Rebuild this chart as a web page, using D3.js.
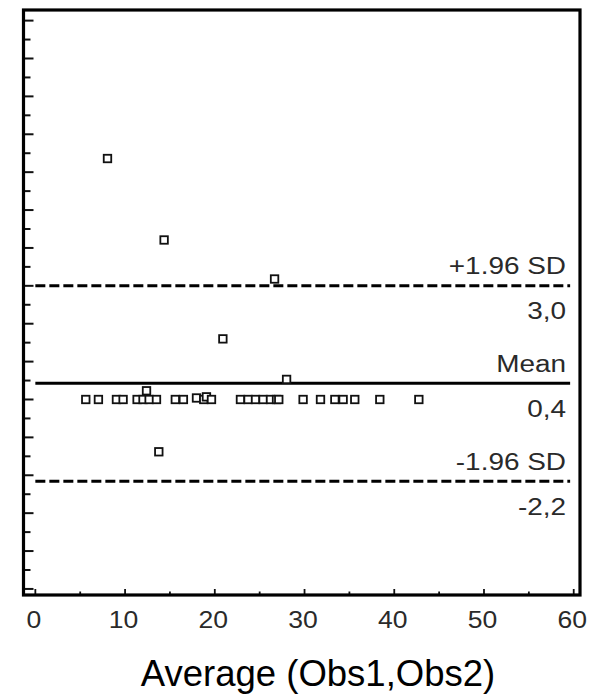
<!DOCTYPE html>
<html>
<head>
<meta charset="utf-8">
<script src="https://cdn.jsdelivr.net/npm/d3@7"></script>
<style>
  html, body { margin: 0; padding: 0; background: #fff; }
  svg { display: block; font-family: Arial, "Liberation Sans", sans-serif; }
</style>
</head>
<body>
<div id="viz"></div>
<script>
// Bland-Altman: average of two observers vs. their difference
const avgValues = [8.04, 14.35, 26.66, 20.9, 28.0, 13.76, 12.39,
  5.62, 7.03, 9.04, 9.78, 11.34, 12.0, 12.68, 13.5, 15.6, 16.5,
  17.96, 18.77, 19.07, 19.63,
  22.86, 23.71, 24.54, 25.38, 26.21, 26.88, 27.13,
  29.84, 31.78, 33.38, 34.3, 35.6, 38.39, 42.74];
const diffValues = [6.36, 4.21, 3.18, 1.6, 0.53, -1.38, 0.23,
  0, 0, 0, 0, 0, 0, 0, 0, 0, 0,
  0.04, 0, 0.07, 0,
  0, 0, 0, 0, 0, 0, 0,
  0, 0, 0, 0, 0, 0, 0];

const limitNames = ['+1.96 SD', 'Mean', '-1.96 SD'];
const limitValues = [3.0, 0.43, -2.16];
const limitTexts = ['3,0', '0,4', '-2,2'];
const limitDashed = [true, false, true];

const xTickValues = [0, 10, 20, 30, 40, 50, 60];
const xLabel = 'Average (Obs1,Obs2)';

const width = 601, height = 699;
const frame = {left: 23.5, right: 580, top: 10, bottom: 595};

const svg = d3.select('#viz').append('svg')
  .attr('width', width).attr('height', height)
  .attr('viewBox', `0 0 ${width} ${height}`)
  .attr('role', 'img')
  .attr('aria-label', 'Bland-Altman plot: difference against average of Obs1 and Obs2');

const x = d3.scaleLinear().domain([-1.32, 60.7]).range([frame.left, frame.right]);
const y = d3.scaleLinear().domain([-5.16, 10.28]).range([frame.bottom, frame.top]);

// y ticks: long at integers, short at halves, pointing inward
const yTicks = d3.range(-5, 10.01, 0.5);
svg.append('g').selectAll('line').data(yTicks).join('line')
  .attr('x1', frame.left)
  .attr('x2', d => frame.left + (Number.isInteger(d) ? 10 : 7))
  .attr('y1', d => y(d)).attr('y2', d => y(d))
  .attr('stroke', '#111').attr('stroke-width', 2);

// x ticks
const xTicks = d3.range(0, 60.01, 5);
svg.append('g').selectAll('line').data(xTicks).join('line')
  .attr('x1', d => x(d)).attr('x2', d => x(d))
  .attr('y1', frame.bottom)
  .attr('y2', d => frame.bottom - (d % 10 === 0 ? 6 : 3.5))
  .attr('stroke', '#111').attr('stroke-width', 1.8);

svg.append('g').selectAll('text').data(xTickValues).join('text')
  .attr('transform', d => `translate(${x(d) - 1.5},628) scale(1.13,1)`)
  .attr('text-anchor', 'middle')
  .attr('font-size', 23.5)
  .attr('fill', '#2a2a2a')
  .text(d => d);

// limit lines
const limits = limitNames.map((name, i) => ({
  name, value: limitValues[i], text: limitTexts[i], dashed: limitDashed[i]
}));

svg.append('g').selectAll('line').data(limits).join('line')
  .attr('x1', x(0)).attr('x2', x(59.6))
  .attr('y1', d => y(d.value)).attr('y2', d => y(d.value))
  .attr('stroke', '#000').attr('stroke-width', 3)
  .attr('stroke-dasharray', d => d.dashed ? '10,4' : null);

const labelX = 566;
const lg = svg.append('g');
lg.selectAll('text.name').data(limits).join('text')
  .attr('class', 'name')
  .attr('transform', d => `translate(${labelX},${y(d.value) - 11.5}) scale(1.14,1)`)
  .attr('text-anchor', 'end').attr('font-size', 24.5).attr('fill', '#2a2a2a')
  .text(d => d.name);
lg.selectAll('text.val').data(limits).join('text')
  .attr('class', 'val')
  .attr('transform', d => `translate(${labelX},${y(d.value) + 33.5}) scale(1.14,1)`)
  .attr('text-anchor', 'end').attr('font-size', 24.5).attr('fill', '#2a2a2a')
  .text(d => d.text);

// points
const pts = avgValues.map((a, i) => ({a, d: diffValues[i]}));
const s = 7.5;
svg.append('g').selectAll('rect').data(pts).join('rect')
  .attr('x', d => x(d.a) - s / 2)
  .attr('y', d => y(d.d) - s / 2)
  .attr('width', s).attr('height', s)
  .attr('fill', '#fff')
  .attr('stroke', '#111').attr('stroke-width', 1.8);

// frame
svg.append('rect')
  .attr('x', frame.left).attr('y', frame.top)
  .attr('width', frame.right - frame.left)
  .attr('height', frame.bottom - frame.top)
  .attr('fill', 'none').attr('stroke', '#000').attr('stroke-width', 3.2);

svg.append('text')
  .attr('x', 318).attr('y', 686)
  .attr('text-anchor', 'middle')
  .attr('font-size', 36.5)
  .attr('fill', '#000')
  .text(xLabel);
</script>
</body>
</html>
